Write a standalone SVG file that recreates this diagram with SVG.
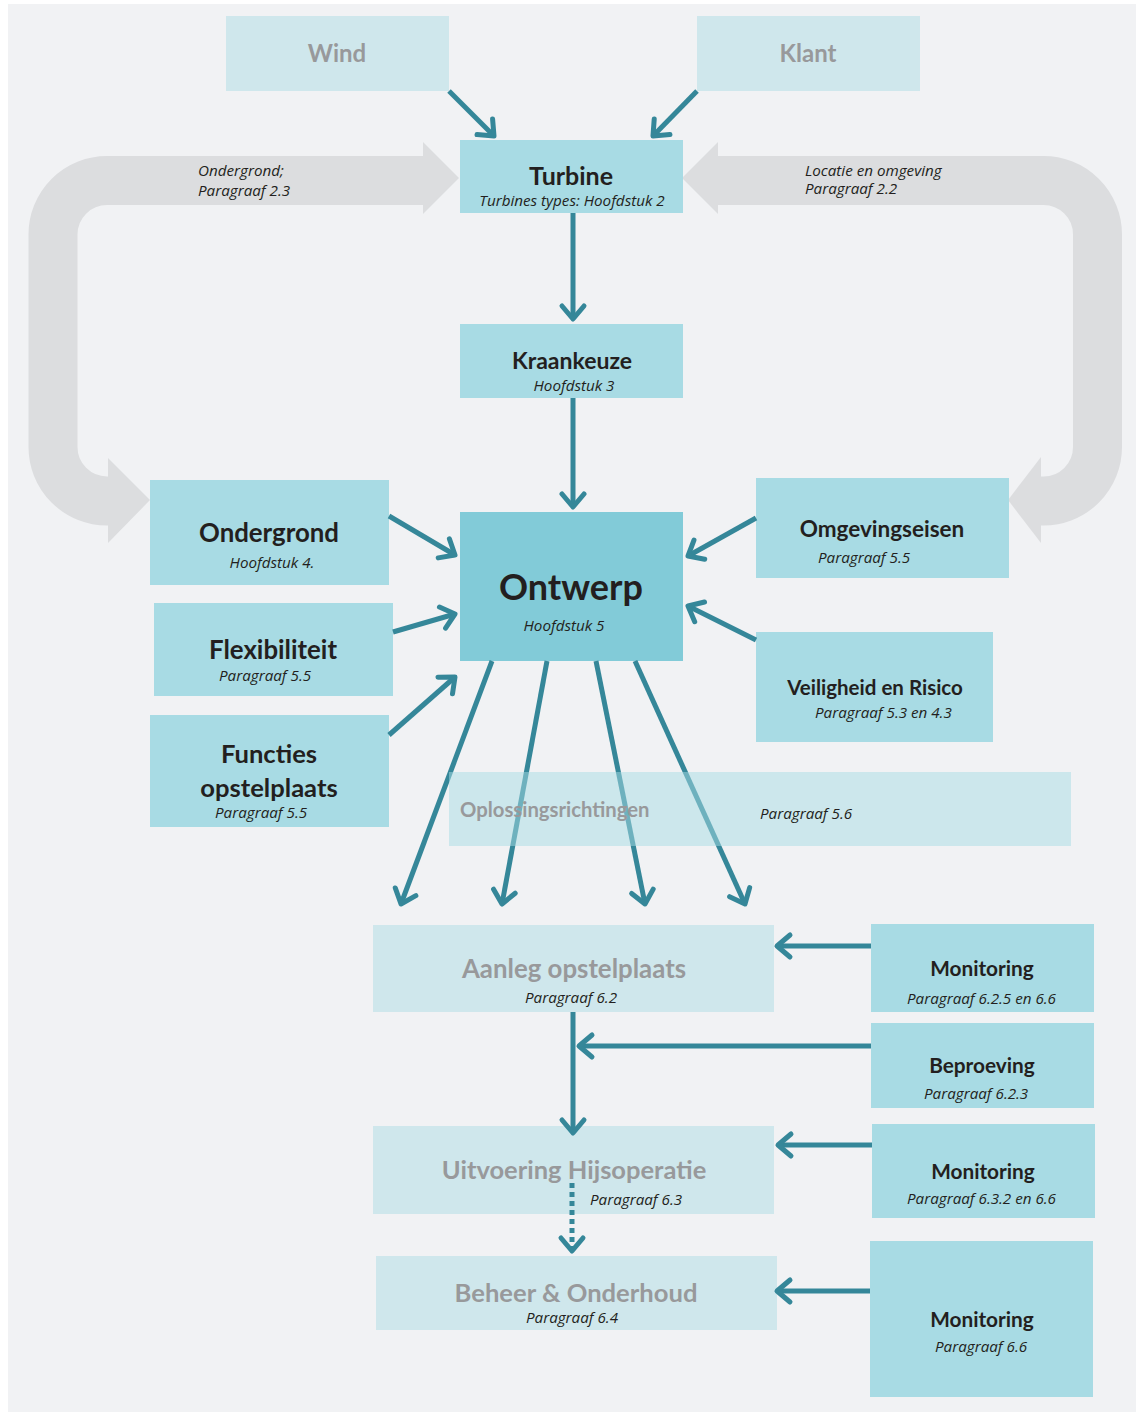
<svg xmlns="http://www.w3.org/2000/svg" width="1136" height="1412" viewBox="0 0 1136 1412">
<defs>
<style>
.bg{fill:#f1f2f4}
.box{fill:#a8dbe4}
.main{fill:#82cbd8}
.pale{fill:#cfe7ec}
.t{font-family:Lato,"Liberation Sans",sans-serif;font-weight:bold;fill:#231f20}
.g{font-family:Lato,"Liberation Sans",sans-serif;font-weight:bold;fill:#98999b}
.i{font-family:"Open Sans","Liberation Sans",sans-serif;font-style:italic;font-size:15.2px;fill:#231f20}
.c{stroke:#358799;stroke-width:5;fill:none}
.band{fill:none;stroke:#dcdddf;stroke-width:49}
.head{fill:#dcdddf}
</style>
<marker id="ah" markerUnits="userSpaceOnUse" markerWidth="40" markerHeight="40" viewBox="-20 -20 40 40" refX="0" refY="0" orient="auto" overflow="visible">
<path d="M -13 -11 L 0 0 L -13 11" fill="none" stroke="#358799" stroke-width="5" stroke-linecap="round" stroke-linejoin="round"/>
</marker>
</defs>
<rect x="0" y="0" width="1136" height="1412" fill="#ffffff"/>
<rect class="bg" x="8" y="4" width="1128" height="1408"/>

<g id="loop-left">
<path class="band" d="M 425 180.5 H 107 A 54 54 0 0 0 53 234.5 V 447 A 54 54 0 0 0 107 501 H 110"/>
<polygon class="head" points="423,142 459,178 423,214"/>
<polygon class="head" points="108,458 150,500 108,543"/>
<text class="i" x="198" y="176">Ondergrond;</text>
<text class="i" x="198" y="196">Paragraaf 2.3</text>
</g>
<g id="loop-right">
<path class="band" d="M 716 180.5 H 1043 A 54 54 0 0 1 1097.5 234.5 V 447 A 54 54 0 0 1 1043 501 H 1040"/>
<polygon class="head" points="718,142 682,178 718,214"/>
<polygon class="head" points="1041,457 1008,500 1041,543"/>
<text class="i" x="805" y="176">Locatie en omgeving</text>
<text class="i" x="805" y="194">Paragraaf 2.2</text>
</g>

<g id="wind"><rect class="pale" x="226" y="16" width="223" height="75"/><text class="g" x="337" y="62" font-size="24" text-anchor="middle">Wind</text></g>
<g id="klant"><rect class="pale" x="697" y="16" width="223" height="75"/><text class="g" x="808" y="62" font-size="24" text-anchor="middle">Klant</text></g>
<g id="turbine"><rect class="box" x="460" y="140" width="223" height="73"/><text class="t" x="571" y="185" font-size="25" text-anchor="middle">Turbine</text><text class="i" x="572" y="206" text-anchor="middle" font-size="14.6">Turbines types: Hoofdstuk 2</text></g>
<g id="kraankeuze"><rect class="box" x="460" y="324" width="223" height="74"/><text class="t" x="572" y="369" font-size="23" text-anchor="middle">Kraankeuze</text><text class="i" x="574" y="391" text-anchor="middle">Hoofdstuk 3</text></g>
<g id="ontwerp"><rect class="main" x="460" y="512" width="223" height="149"/><text class="t" x="571" y="600" font-size="36" text-anchor="middle">Ontwerp</text><text class="i" x="564" y="631" text-anchor="middle">Hoofdstuk 5</text></g>
<g id="ondergrond"><rect class="box" x="150" y="480" width="239" height="105"/><text class="t" x="269" y="542" font-size="25.8" text-anchor="middle">Ondergrond</text><text class="i" x="272" y="568" text-anchor="middle">Hoofdstuk 4.</text></g>
<g id="flexibiliteit"><rect class="box" x="154" y="603" width="239" height="93"/><text class="t" x="273" y="659" font-size="25.8" text-anchor="middle">Flexibiliteit</text><text class="i" x="219" y="681">Paragraaf 5.5</text></g>
<g id="functies"><rect class="box" x="150" y="715" width="239" height="112"/><text class="t" x="269" y="763" font-size="25.6" text-anchor="middle">Functies</text><text class="t" x="269" y="797" font-size="25.6" text-anchor="middle">opstelplaats</text><text class="i" x="215" y="818">Paragraaf 5.5</text></g>
<g id="omgevingseisen"><rect class="box" x="756" y="478" width="253" height="100"/><text class="t" x="882" y="537" font-size="22.5" text-anchor="middle">Omgevingseisen</text><text class="i" x="818" y="563">Paragraaf 5.5</text></g>
<g id="veiligheid"><rect class="box" x="756" y="632" width="237" height="110"/><text class="t" x="875" y="695" font-size="20.5" text-anchor="middle">Veiligheid en Risico</text><text class="i" x="815" y="718">Paragraaf 5.3 en 4.3</text></g>

<g id="aanleg"><rect class="pale" x="373" y="925" width="401" height="87"/><text class="g" x="574" y="978" font-size="25.8" text-anchor="middle">Aanleg opstelplaats</text><text class="i" x="571" y="1003" text-anchor="middle">Paragraaf 6.2</text></g>
<g id="monitoring1"><rect class="box" x="871" y="924" width="223" height="88"/><text class="t" x="982" y="976" font-size="20.8" text-anchor="middle">Monitoring</text><text class="i" x="907" y="1004">Paragraaf 6.2.5 en 6.6</text></g>
<g id="beproeving"><rect class="box" x="871" y="1023" width="223" height="85"/><text class="t" x="982" y="1073" font-size="20.8" text-anchor="middle">Beproeving</text><text class="i" x="924" y="1099">Paragraaf 6.2.3</text></g>
<g id="uitvoering"><rect class="pale" x="373" y="1126" width="401" height="88"/><text class="g" x="574" y="1179" font-size="25.5" text-anchor="middle">Uitvoering Hijsoperatie</text><text class="i" x="590" y="1205">Paragraaf 6.3</text></g>
<g id="monitoring2"><rect class="box" x="872" y="1124" width="223" height="94"/><text class="t" x="983" y="1179" font-size="20.8" text-anchor="middle">Monitoring</text><text class="i" x="907" y="1204">Paragraaf 6.3.2 en 6.6</text></g>
<g id="beheer"><rect class="pale" x="376" y="1256" width="401" height="74"/><text class="g" x="576" y="1302" font-size="25.6" text-anchor="middle">Beheer &amp; Onderhoud</text><text class="i" x="572" y="1323" text-anchor="middle">Paragraaf 6.4</text></g>
<g id="monitoring3"><rect class="box" x="870" y="1241" width="223" height="156"/><text class="t" x="982" y="1327" font-size="20.8" text-anchor="middle">Monitoring</text><text class="i" x="935" y="1352">Paragraaf 6.6</text></g>

<g id="connectors">
<line class="c" x1="449" y1="91" x2="494" y2="136" marker-end="url(#ah)"/>
<line class="c" x1="697" y1="91" x2="653" y2="136" marker-end="url(#ah)"/>
<line class="c" x1="573" y1="213" x2="573" y2="319" marker-end="url(#ah)"/>
<line class="c" x1="573" y1="398" x2="573" y2="507" marker-end="url(#ah)"/>
<line class="c" x1="389" y1="516" x2="455" y2="555" marker-end="url(#ah)"/>
<line class="c" x1="393" y1="632" x2="455" y2="614" marker-end="url(#ah)"/>
<line class="c" x1="389" y1="735" x2="455" y2="677" marker-end="url(#ah)"/>
<line class="c" x1="756" y1="518" x2="688" y2="556" marker-end="url(#ah)"/>
<line class="c" x1="756" y1="640" x2="688" y2="606" marker-end="url(#ah)"/>
<line class="c" x1="492" y1="661" x2="401" y2="904" marker-end="url(#ah)"/>
<line class="c" x1="547" y1="661" x2="502" y2="904" marker-end="url(#ah)"/>
<line class="c" x1="596" y1="661" x2="645" y2="904" marker-end="url(#ah)"/>
<line class="c" x1="635" y1="661" x2="745" y2="904" marker-end="url(#ah)"/>
<line class="c" x1="871" y1="946" x2="777" y2="946" marker-end="url(#ah)"/>
<line class="c" x1="871" y1="1046" x2="579" y2="1046" marker-end="url(#ah)"/>
<line class="c" x1="573" y1="1012" x2="573" y2="1133" marker-end="url(#ah)"/>
<line class="c" x1="872" y1="1145" x2="778" y2="1145" marker-end="url(#ah)"/>
<line class="c" x1="572" y1="1183" x2="572" y2="1251" stroke-dasharray="5 4" stroke-width="4.5" marker-end="url(#ah)"/>
<line class="c" x1="870" y1="1291" x2="777" y2="1291" marker-end="url(#ah)"/>
</g>

<g id="oplossingsrichtingen">
<rect x="449" y="772" width="622" height="74" fill="#a8dbe4" fill-opacity="0.5"/>
<text class="g" x="460" y="817" font-size="20.3">Oplossingsrichtingen</text>
<text class="i" x="760" y="819">Paragraaf 5.6</text>
</g>
</svg>
